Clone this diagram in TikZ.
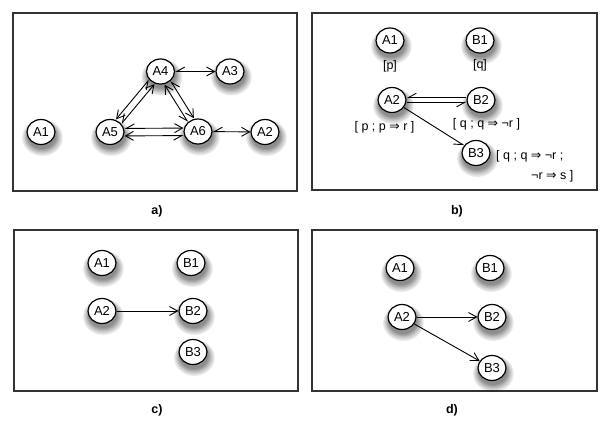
\documentclass[tikz,border=0pt]{standalone}
\usepackage{fontspec}
\setmainfont{Liberation Sans}
\newfontfamily\symfont{DejaVu Sans}
\usetikzlibrary{arrows.meta,shadows,shapes.geometric}
\newcommand{\impl}{{\symfont ⇒}}
\tikzset{
  sh/.style={general shadow={shadow scale=#1, shadow xshift=1pt, shadow yshift=-4pt, fill=black, opacity=0.09}},
  agent/.style={draw, line width=1.2pt, fill=white, ellipse, minimum width=28pt, minimum height=25pt, inner sep=0pt,
    font=\fontsize{13}{15}\selectfont,
    sh=1.45, sh=1.35, sh=1.25, sh=1.17, sh=1.1, sh=1.03},
  panel/.style={draw=black!80, line width=1.3pt},
  lbl/.style={font=\bfseries\fontsize{12.5}{14}\selectfont},
  kb/.style={font=\fontsize{12.5}{15}\selectfont, inner sep=0pt},
  tipf/.tip={Straight Barb[length=8pt,width=9pt]},
  tiph/.tip={Straight Barb[length=8pt,width=9pt,harpoon,swap]},
  arr/.style={line width=0.9pt, -tipf},
  harr/.style={line width=0.9pt, -tiph},
  tarr/.style={line width=0.9pt, tiph-tipf}
}
\begin{document}
\begin{tikzpicture}[x=1pt,y=-1pt]
\useasboundingbox[fill=white] (0,0) rectangle (609,430);
% panel boxes
\draw[panel] (13,13) rectangle (297,191);
\draw[panel] (312,13) rectangle (597,190);
\draw[panel] (14,230) rectangle (298,391);
\draw[panel] (312,230) rectangle (597,391);
\node[lbl] (la) at (157,211) {a)};
\node[lbl] (lb) at (457,211) {b)};
\node[lbl] (lc) at (157,410) {c)};
\node[lbl] (ld) at (452,410) {d)};
% panel a
\node[agent] (aA4) at (160.5,71.5) {A4};
\node[agent] (aA3) at (230,71.5) {A3};
\node[agent] (aA1) at (41,132) {A1};
\node[agent] (aA5) at (110,132) {A5};
\node[agent] (aA6) at (198,131.5) {A6};
\node[agent] (aA2) at (265,132) {A2};
\draw[tarr] (aA4) -- (aA3);
\draw[tarr] (aA6) -- (aA2);
\draw[tarr, transform canvas={shift={(0,-3.5)}}] (aA5) -- (aA6);
\draw[tarr, transform canvas={shift={(0,4)}}] (aA6) -- (aA5);
\draw[tarr, transform canvas={shift={(-2.7,-2.2)}}] (aA4) -- (aA5);
\draw[tarr, transform canvas={shift={(2.7,2.2)}}] (aA5) -- (aA4);
\draw[tarr, transform canvas={shift={(3,-1.9)}}] (aA4) -- (aA6);
\draw[tarr, transform canvas={shift={(-3,1.9)}}] (aA6) -- (aA4);
% panel b
\node[agent] (bA1) at (390,40.5) {A1};
\node[agent] (bB1) at (480,40.5) {B1};
\node[agent] (bA2) at (392,100) {A2};
\node[agent] (bB2) at (481,100) {B2};
\node[agent] (bB3) at (476,153) {B3};
\node[kb] (bp) at (390,66) {[p]};
\node[kb] (bq) at (480,65) {[q]};
\node[kb] (bk2) at (384.5,127) {[ p ; p \impl{} r ]};
\node[kb] (bk3) at (486.5,124) {[ q ; q \impl{} ¬r ]};
\node[kb, anchor=west] (bk4) at (496,156) {[ q ; q \impl{} ¬r ;};
\node[kb, anchor=west] (bk5) at (531,176) {¬r \impl{} s ]};
\draw[harr, transform canvas={shift={(0,-2.3)}}] (bB2) -- (bA2);
\draw[harr, transform canvas={shift={(0,2.3)}}] (bA2) -- (bB2);
\draw[harr] (bA2) -- (bB3);
% panel c
\node[agent] (cA1) at (102,263) {A1};
\node[agent] (cB1) at (191,263) {B1};
\node[agent] (cA2) at (102,311) {A2};
\node[agent] (cB2) at (193,311) {B2};
\node[agent] (cB3) at (193,352) {B3};
\draw[arr] (cA2) -- (cB2);
% panel d
\node[agent] (dA1) at (400,268) {A1};
\node[agent] (dB1) at (490,268) {B1};
\node[agent] (dA2) at (402,317) {A2};
\node[agent] (dB2) at (492,317) {B2};
\node[agent] (dB3) at (492,368) {B3};
\draw[arr] (dA2) -- (dB2);
\draw[arr] (dA2) -- (dB3);
\end{tikzpicture}
\end{document}
